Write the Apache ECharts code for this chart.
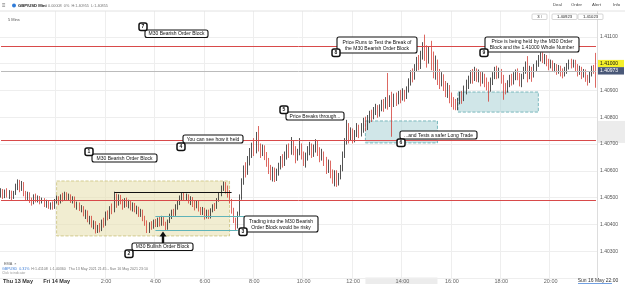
<!DOCTYPE html>
<html>
<head>
<meta charset="utf-8">
<script src="https://cdn.jsdelivr.net/npm/echarts@6/dist/echarts.min.js"></script>
<style>
html, body { margin: 0; padding: 0; background: #fff; }
#chart { width: 625px; height: 284px; }
</style>
</head>
<body>
<div id="chart"></div>
<script>
// GBP/USD 5 min bars, Thu 13 May 21:45 -> Fri 14 May close
// each bar is [open, close, low, high] in points (0.00001) above BASE
const BASE = 1.40000;

const thursdayBars = [
  [512,525,500,535],[525,505,495,532],[505,522,498,530],[522,508,500,535],[508,520,495,528],[520,500,490,526],
  [500,515,495,525],[515,540,510,552],[540,555,528,568],[555,530,520,566],[530,552,525,562],[552,515,505,558],
  [515,498,490,525],[498,515,488,522],[515,492,480,520],[492,480,470,500],[480,505,475,512],[505,490,482,515],
  [490,502,482,508],[502,482,475,506],[482,495,478,500],[495,472,465,498],[472,486,462,492],[486,468,458,490],
  [468,475,455,482],[475,462,455,486],[462,488,458,495]
];

const asiaBars = [
  [488,500,478,508],[500,482,472,505],[482,505,478,512],[505,495,485,518],[495,515,490,522],[515,498,488,520],[498,508,490,515],
  [508,488,480,512],[488,500,478,505],[500,470,462,504],[470,478,455,485],[478,458,450,482],[458,465,445,472],[465,438,430,468],
  [438,448,420,455],[448,418,408,452],[418,428,400,432],[428,398,388,432],[398,408,382,415],[408,378,366,412],[378,392,368,398],
  [392,378,370,405],[378,410,375,418],[410,400,388,425],[400,438,395,448],[438,428,415,452],[428,462,420,468],[462,448,438,478],
  [448,500,445,522],[500,478,462,515],
  [478,505,470,512],[505,482,475,510],[482,470,455,495],[470,492,462,498],[492,475,465,500],[475,485,460,492],[485,462,452,490],
  [462,475,448,482],[475,455,445,480],[455,462,438,470],[462,440,428,466],[440,450,428,458],[450,425,412,455],[425,412,395,432],
  [412,385,368,415],[385,400,368,408],
  [400,388,380,412],[388,412,384,418],[412,398,390,420],[398,418,390,425],[418,400,392,428],[400,422,395,432],[422,405,395,430],
  [405,385,378,410],[385,412,380,418],[412,430,405,440],
  [430,448,420,455],[448,435,428,458],[435,468,432,475],[468,482,455,490],[482,500,472,508],[500,512,490,518],[512,495,488,518],
  [495,510,488,515],[510,485,478,512],[485,500,472,505],[500,475,465,502],[475,468,452,488],[468,485,460,490],[485,458,448,488],
  [458,445,435,465],[445,460,435,465],[460,432,418,462],
  [432,450,422,455],[450,428,420,455],[428,455,422,460],[455,470,445,475],[470,462,450,480],
  [462,492,458,498],[492,515,485,520],[515,535,505,545],[535,552,525,560],[552,530,515,558],[530,518,500,545]
];

const londonBars = [
  [518,485,478,528],[485,452,440,495],[452,418,405,462],[418,392,378,425],
  [392,440,385,448],[440,500,432,512],[500,565,492,572],[565,605,548,620],[605,590,575,632],[590,640,585,655],[640,662,620,685],
  [662,695,648,705],[695,675,655,722],[675,712,665,745],[712,688,672,767],[688,665,648,702],[665,688,655,698],
  [688,655,640,695],[655,632,615,670],[632,600,588,648],[600,582,565,622],[582,605,560,615],[605,575,558,612],[575,598,562,608],
  [598,620,582,630],[620,645,605,655],[645,625,612,662],
  [625,658,618,672],[658,685,642,698],[685,668,648,702],[668,705,660,726],[705,678,658,712],[678,645,628,692],[645,672,638,682],
  [672,695,658,722],[695,658,642,702],[658,635,618,672],
  [635,658,612,668],[658,675,638,692],[675,695,658,708],[695,662,648,702],[662,685,652,698],[685,705,668,718],[705,672,655,712],
  [672,645,632,688],[645,668,638,682],[668,635,618,672],
  [635,605,588,652],[605,628,592,642],[628,592,572,638],[592,565,552,605],[565,592,542,602],[592,560,540,602],[560,585,545,592],
  [585,612,568,622],
  [612,665,598,672],[665,715,648,722],[715,765,698,790],[765,728,702,778],[728,748,712,762],
  [748,718,702,758],[718,738,706,752],[738,765,726,778],[765,738,722,772],[738,758,728,778],[758,785,742,798],[785,762,748,802],
  [762,792,752,808],
  [792,815,778,824],[815,798,782,828],[798,825,792,838],[825,840,808,850]
];

const newYorkBars = [
  [840,812,798,845],[812,835,802,848],[835,855,822,865],[855,838,820,868],[838,865,832,875],[865,848,828,965],[848,872,838,882],
  [872,848,727,895],[848,875,838,888],[875,858,842,892],[858,885,848,898],[885,868,852,902],[868,895,862,908],[895,872,858,902],
  [872,902,868,915],
  [902,935,892,945],[935,962,918,975],[962,945,930,982],[945,990,940,998],[990,1015,972,1025],[1015,992,975,1032],
  [992,1035,980,1048],[1035,1065,1015,1080],[1065,1035,1010,1108],[1035,1010,985,1068],[1010,1050,1000,1062],
  [1050,1000,975,1085],[1000,970,945,1045],[970,1005,940,1030],[1005,955,920,1015],[955,930,905,980],
  [930,952,915,968],[952,915,898,960],[915,895,875,935],[895,915,872,928],[915,875,852,920],[875,858,838,892],[858,845,828,875],
  [845,838,826,868],
  [838,862,826,872],[862,885,848,895],[885,865,850,898],[865,902,860,918],[902,925,885,940],
  [925,945,905,955],[945,960,925,975],[960,940,925,980],[940,968,935,988],[968,948,932,982],[948,962,930,978],[962,935,915,972],
  [935,958,925,968],[958,932,912,962],[932,915,900,948],
  [915,902,858,932],[902,935,895,948],[935,958,920,968],[958,978,942,988],[978,955,942,992],[955,972,945,985],[972,940,925,980],
  [940,912,865,958],[912,902,885,928],[902,928,892,938],
  [928,948,912,958],[948,930,918,962],[930,952,922,968],[952,968,938,978],[968,950,938,982],[950,932,915,965],[932,955,912,962],
  [955,978,942,988],[978,995,962,1008],
  [995,958,930,1028],[958,978,942,992],[978,952,932,988],[952,988,948,998],[988,1002,972,1012],[1002,1022,988,1032],
  [1022,1038,1008,1042],
  [1038,1012,1002,1042],[1012,1028,998,1036],[1028,1002,990,1032],[1002,992,975,1018],[992,1008,982,1015],[1008,982,970,1012],
  [982,995,968,1002],[995,972,958,998],[972,988,962,995],[988,968,952,992],[968,958,945,982],[958,978,952,988],[978,992,962,1002],
  [992,1008,978,1015],[1008,990,982,1018],[990,1010,985,1015],[1010,988,972,1014],[988,968,952,998],[968,982,958,992],
  [982,958,942,988],[958,972,948,980],
  [972,948,932,978],[948,938,918,958],[938,962,928,972],[962,988,952,992],[988,975,962,995],[975,973,910,1040]
];

const tickTimes = ['Fri 00:00','Fri 02:00','Fri 04:00','Fri 06:00','Fri 08:00','Fri 10:00','Fri 12:00','Fri 14:00','Fri 16:00','Fri 18:00','Fri 20:00'];
const tickLabels = ['Fri 14 May','2:00','4:00','6:00','8:00','10:00','12:00','14:00','16:00','18:00','20:00'];

const redLevels = [1.41066, 1.40715, 1.40491];
const lastPrice = 1.40973;
const wholeNumber = 1.41000;
const bullishBlockTop = { from: 'Fri 02:20', to: 'Fri 07:05', price: 1.40520 };
const tealLines = [
  { from: 'Fri 04:00', to: 'Fri 07:35', price: 1.40431 },
  { from: 'Fri 04:00', to: 'Fri 07:20', price: 1.40379 }
];
const yellowZone = { from: 'Fri 00:00', to: 'Fri 07:00', top: 1.40562, bottom: 1.40357 };
const tealZones = [
  { from: 'Fri 12:30', to: 'Fri 15:25', top: 1.40786, bottom: 1.40704 },
  { from: 'Fri 16:15', to: 'Fri 19:30', top: 1.40894, bottom: 1.40819 }
];

// build the category axis (5 min steps from Thu 21:45)
const bars = thursdayBars.concat(asiaBars, londonBars, newYorkBars);
const pad = (n) => (n < 10 ? '0' : '') + n;
const times = bars.map((b, i) => {
  const t = 21 * 60 + 45 + 5 * i;
  const m = t % 1440;
  return (t >= 1440 ? 'Fri ' : 'Thu ') + pad(Math.floor(m / 60)) + ':' + pad(m % 60);
});
const candles = bars.map((b) => b.map((v) => +(BASE + v / 100000).toFixed(5)));
const firstTime = times[0];
const lastTime = times[times.length - 1];

const FONT = 'Liberation Sans';
const chart = echarts.init(document.getElementById('chart'));
const isTick = (idx, val) => tickTimes.indexOf(val) >= 0;

// full width horizontal level
const level = (price, style) => [
  { coord: [firstTime, price], lineStyle: style, label: { show: false } },
  { coord: [lastTime, price] }
];

const option = {
  animation: false,
  backgroundColor: '#fff',
  grid: { left: 0, right: 28, top: 10, height: 268 },
  xAxis: {
    type: 'category',
    data: times,
    boundaryGap: true,
    axisLine: { show: false },
    axisTick: { show: false },
    axisLabel: {
      interval: isTick,
      margin: 0,
      fontSize: 5.5,
      fontFamily: FONT,
      color: '#666',
      formatter: (val) => {
        const lbl = tickLabels[tickTimes.indexOf(val)];
        return lbl.indexOf('May') > 0 ? '{b|' + lbl + '}' : lbl;
      },
      rich: { b: { fontSize: 5.5, fontFamily: FONT, color: '#333', fontWeight: 'bold' } }
    },
    splitLine: { show: true, interval: isTick, lineStyle: { color: '#eeeeee', width: 1 } }
  },
  yAxis: {
    type: 'value',
    position: 'right',
    min: 1.402,
    max: 1.412,
    interval: 0.001,
    axisLine: { show: true, lineStyle: { color: '#dddddd' } },
    axisTick: { show: false },
    axisLabel: {
      margin: 3,
      fontSize: 5,
      fontFamily: FONT,
      color: '#555',
      showMinLabel: false,
      showMaxLabel: false,
      formatter: (v) => v.toFixed(5)
    },
    splitLine: { lineStyle: { color: '#eeeeee', width: 1 } }
  },
  series: [
    {
      type: 'line',
      data: [],
      z: 1,
      silent: true,
      markArea: {
        silent: true,
        data: [
          [
            { coord: [yellowZone.from, yellowZone.top], itemStyle: { color: 'rgba(232,225,178,0.6)', borderColor: '#c9c07a', borderWidth: 0.8, borderType: 'dashed' } },
            { coord: [yellowZone.to, yellowZone.bottom] }
          ]
        ].concat(tealZones.map((z) => [
          { coord: [z.from, z.top], itemStyle: { color: 'rgba(176,214,216,0.6)', borderColor: '#5fa9b0', borderWidth: 0.8, borderType: 'dashed' } },
          { coord: [z.to, z.bottom] }
        ]))
      }
    },
    {
      type: 'candlestick',
      data: candles,
      z: 2,
      barWidth: 1.2,
      itemStyle: {
        color: '#1a1a1a',
        color0: '#d2362e',
        borderColor: '#1a1a1a',
        borderColor0: '#d2362e',
        borderWidth: 0.75
      },
      markLine: {
        silent: true,
        symbol: 'none',
        animation: false,
        data: redLevels.map((v) => level(v, { color: '#d84a4a', width: 1, type: 'solid' }))
          .concat([
            level(lastPrice, { color: '#bbbbbb', width: 1, type: 'solid' }),
            [
              { coord: [bullishBlockTop.from, bullishBlockTop.price], lineStyle: { color: '#111', width: 1.2, type: 'solid' }, label: { show: false } },
              { coord: [bullishBlockTop.to, bullishBlockTop.price] }
            ]
          ])
          .concat(tealLines.map((l) => [
            { coord: [l.from, l.price], lineStyle: { color: '#5fb3b8', width: 1, type: 'solid' }, label: { show: false } },
            { coord: [l.to, l.price] }
          ]))
      }
    }
  ]
};

chart.setOption(option);

// annotations
const callouts = [
  { n: '7', badge: [139, 23], box: [145, 30, 63, 7.5], lines: ['M30 Bearish Order Block'] },
  { n: '1', badge: [85, 148], box: [92, 154, 65, 8], lines: ['M30 Bearish Order Block'] },
  { n: '4', badge: [177, 143], box: [183, 135, 60, 8], lines: ['You can see how it held'] },
  { n: '5', badge: [280, 106], box: [286, 112, 58, 8], lines: ['Price Breaks through...'] },
  { n: '8', badge: [332, 49], box: [337, 37, 80, 16], lines: ['Price Runs to Test the Break of', 'the M30 Bearish Order Block'] },
  { n: '9', badge: [480, 49], box: [485, 37, 94, 15], lines: ['Price is being held by the M30 Order', 'Block and the 1.41000 Whole Number'] },
  { n: '6', badge: [397, 139], box: [400, 131, 77, 8], lines: ['...and Tests a safer Long Trade'] },
  { n: '3', badge: [239, 228], box: [244, 216, 74, 16], lines: ['Trading into the M30 Bearish', 'Order Block would be risky'] },
  { n: '2', badge: [125, 250], box: [132, 243, 61, 7.5], lines: ['M30 Bullish Order Block'] }
];

const g = [];
const txt = (x, y, text, size, color, extra) => ({
  type: 'text', x: x, y: y, z: 110,
  style: Object.assign({ text: text, fontSize: size, fontFamily: FONT, fill: color, align: 'left', verticalAlign: 'middle' }, extra || {})
});

// selection highlights on the axes (follow teal zone 1)
const z1a = chart.convertToPixel({ gridIndex: 0 }, [tealZones[0].from, tealZones[0].top]);
const z1b = chart.convertToPixel({ gridIndex: 0 }, [tealZones[0].to, tealZones[0].bottom]);
g.push({ type: 'rect', z: -1, shape: { x: z1a[0], y: 277.5, width: z1b[0] - z1a[0], height: 7 }, style: { fill: '#ececec' } });
g.push({ type: 'rect', z: -1, shape: { x: 598, y: z1a[1], width: 27, height: z1b[1] - z1a[1] }, style: { fill: '#ececec' } });

// price tags on the right axis
[[wholeNumber, '#f5f02a', '#111'], [lastPrice, '#4a5878', '#fff']].forEach((t) => {
  const py = chart.convertToPixel({ yAxisIndex: 0 }, t[0]);
  g.push({ type: 'rect', z: 90, shape: { x: 598, y: py - 3.7, width: 26, height: 7.4 }, style: { fill: t[1] } });
  g.push(Object.assign(txt(600, py + 0.2, t[0].toFixed(5), 5, t[2]), { z: 91 }));
});

callouts.forEach((c) => {
  const [x, y, w, h] = c.box;
  g.push({ type: 'rect', z: 100, shape: { x: x, y: y, width: w, height: h, r: 2 }, style: { fill: '#fff', stroke: '#111', lineWidth: 1.1 } });
  g.push(txt(x + w / 2, y + h / 2 + 0.3, c.lines.join('\n'), 5, '#111', { align: 'center', lineHeight: 6.3 }));
  g.push({ type: 'rect', z: 112, shape: { x: c.badge[0], y: c.badge[1], width: 8, height: 7.5, r: 2 }, style: { fill: '#fff', stroke: '#111', lineWidth: 1.5 } });
  g.push(Object.assign(txt(c.badge[0] + 4, c.badge[1] + 4, c.n, 5, '#111', { align: 'center', fontWeight: 'bold' }), { z: 113 }));
});

// arrow under the bullish block
g.push({
  type: 'polygon', z: 100,
  shape: { points: [[159.5, 236.5], [163, 231.5], [166.5, 236.5], [164.2, 236.5], [164.2, 243], [161.8, 243], [161.8, 236.5]] },
  style: { fill: '#111' }
});

// header
g.push({ type: 'rect', z: 105, shape: { x: 0, y: 0, width: 625, height: 11 }, style: { fill: '#fff' } });
g.push({ type: 'line', z: 106, shape: { x1: 0, y1: 11, x2: 625, y2: 11 }, style: { stroke: '#e2e2e2', lineWidth: 1 } });
g.push(txt(2, 5.5, '≡', 6, '#666'));
g.push({ type: 'circle', z: 110, shape: { cx: 14, cy: 5.5, r: 2 }, style: { fill: '#2f7bd8' } });
g.push(txt(18, 5.5, 'GBP/USD Mini', 4.2, '#222', { fontWeight: 'bold' }));
g.push(txt(42, 5.5, '▾', 4, '#666'));
g.push(txt(48, 5.5, '0.00008  0%  H:1.40955  L:1.40855', 3.8, '#777'));
g.push(txt(553, 5, 'Deal', 4.3, '#444'));
g.push(txt(571, 5, 'Order', 4.3, '#444'));
g.push(txt(592, 5, 'Alert', 4.3, '#444'));
g.push(txt(613, 5, 'Info', 4.3, '#444'));
g.push(txt(8, 19.5, '5 Mins', 4, '#555'));
[[532, 15, '3 ⁝'], [552, 25, '1.40923'], [578, 25, '1.41023']].forEach((b) => {
  g.push({ type: 'rect', z: 108, shape: { x: b[0], y: 14, width: b[1], height: 5.5, r: 1 }, style: { fill: '#fff', stroke: '#bbb', lineWidth: 0.6 } });
  g.push(txt(b[0] + b[1] / 2, 16.9, b[2], 4.2, '#222', { align: 'center' }));
});

// indicator strip
g.push(txt(4, 263.5, 'EMA  ×', 3.8, '#666'));
g.push({
  type: 'text', x: 2, y: 268.5, z: 110,
  style: {
    text: '{a|GBPUSD}  {a|0.31%}  H:1.41108  L:1.40360   Thu 13 May 2021 21:45 - Sun 16 May 2021 23:10',
    fontSize: 3.6, fontFamily: FONT, fill: '#777', verticalAlign: 'middle',
    rich: { a: { fontSize: 3.6, fontFamily: FONT, fill: '#3a7bd5', color: '#3a7bd5' } }
  }
});
g.push(txt(2, 273.5, 'Click to indicator', 3.2, '#999'));
g.push(txt(3, 281, 'Thu 13 May', 5.5, '#333', { fontWeight: 'bold' }));
g.push(txt(598, 281, 'Sun 16 May 22:00', 5, '#333', { align: 'center' }));
g.push({ type: 'line', z: 110, shape: { x1: 578, y1: 283.6, x2: 612, y2: 283.6 }, style: { stroke: '#3a7bd5', lineWidth: 0.8 } });

chart.setOption({ graphic: g });
</script>
</body>
</html>
